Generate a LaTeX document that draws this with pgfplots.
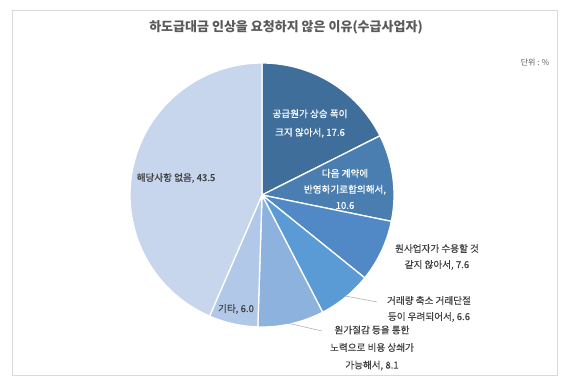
\documentclass[border=0pt]{standalone}
\usepackage{pgfplots}
\pgfplotsset{compat=1.18}
\usepackage{fontspec}
\setmainfont{Noto Sans CJK KR}
\newfontfamily\lblfont[FakeBold=0.6]{Noto Sans CJK KR}
\definecolor{cA}{RGB}{64,110,154}
\definecolor{cB}{RGB}{74,126,177}
\definecolor{cC}{RGB}{80,137,197}
\definecolor{cD}{RGB}{91,155,213}
\definecolor{cE}{RGB}{141,178,222}
\definecolor{cF}{RGB}{177,200,232}
\definecolor{cG}{RGB}{199,214,237}
\definecolor{txt}{RGB}{64,64,64}
\definecolor{ttl}{RGB}{89,89,89}
\definecolor{frm}{RGB}{217,217,217}
% data (percent)
\def\vA{17.6}\def\vB{10.6}\def\vC{7.6}\def\vD{6.6}\def\vE{8.1}\def\vF{6.0}\def\vG{43.5}
\pgfmathsetmacro\aA{90}
\pgfmathsetmacro\aB{\aA-3.6*\vA}
\pgfmathsetmacro\aC{\aB-3.6*\vB}
\pgfmathsetmacro\aD{\aC-3.6*\vC}
\pgfmathsetmacro\aE{\aD-3.6*\vD}
\pgfmathsetmacro\aF{\aE-3.6*\vE}
\pgfmathsetmacro\aG{\aF-3.6*\vF}
\pgfmathsetmacro\aH{\aG-3.6*\vG}
\def\cx{262}\def\cy{190}\def\rr{132}
\begin{document}
\begin{tikzpicture}
\begin{axis}[scale only axis, width=573pt, height=385pt,
  xmin=0, xmax=573, ymin=0, ymax=385, hide axis, clip=false]
\path (axis cs:0,0) rectangle (axis cs:573,385);
\draw[frm, line width=0.8pt] (axis cs:12,10) rectangle (axis cs:557,375);
\pgfplotsset{slice/.style={draw=white, line width=1.3pt, samples=80, no markers}}
\addplot[slice, fill=cA, domain=\aA:\aB] ({\cx+\rr*cos(x)},{\cy+\rr*sin(x)}) -- (axis cs:\cx,\cy) -- cycle;
\addplot[slice, fill=cB, domain=\aB:\aC] ({\cx+\rr*cos(x)},{\cy+\rr*sin(x)}) -- (axis cs:\cx,\cy) -- cycle;
\addplot[slice, fill=cC, domain=\aC:\aD] ({\cx+\rr*cos(x)},{\cy+\rr*sin(x)}) -- (axis cs:\cx,\cy) -- cycle;
\addplot[slice, fill=cD, domain=\aD:\aE] ({\cx+\rr*cos(x)},{\cy+\rr*sin(x)}) -- (axis cs:\cx,\cy) -- cycle;
\addplot[slice, fill=cE, domain=\aE:\aF] ({\cx+\rr*cos(x)},{\cy+\rr*sin(x)}) -- (axis cs:\cx,\cy) -- cycle;
\addplot[slice, fill=cF, domain=\aF:\aG] ({\cx+\rr*cos(x)},{\cy+\rr*sin(x)}) -- (axis cs:\cx,\cy) -- cycle;
\addplot[slice, fill=cG, domain=\aG:\aH] ({\cx+\rr*cos(x)},{\cy+\rr*sin(x)}) -- (axis cs:\cx,\cy) -- cycle;
% leader lines
\draw[gray!70, line width=0.5pt] (axis cs:345,89) -- (axis cs:377,83);
\draw[gray!70, line width=0.5pt] (axis cs:287,62) -- (axis cs:322,54);
% title and unit
\node[font=\fontsize{13}{15}\selectfont\bfseries, text=ttl] at (axis cs:286,358) {하도급대금 인상을 요청하지 않은 이유(수급사업자)};
\node[font=\fontsize{8}{9}\selectfont, text=ttl] at (axis cs:535,322) {단위 : \%};
% labels
\pgfplotsset{every node/.append style={}}
\node[font=\lblfont\fontsize{9.6}{18.5}\selectfont, text=white, align=center] at (axis cs:310,261.5) {공급원가 상승 폭이\\크지 않아서, 17.6};
\node[font=\lblfont\fontsize{9.6}{16}\selectfont, text=white, align=center] at (axis cs:345,196) {다음 계약에\\반영하기로합의해서,\\10.6};
\node[font=\lblfont\fontsize{9.6}{16}\selectfont, text=txt, align=center] at (axis cs:437,128) {원사업자가 수용할 것\\같지 않아서, 7.6};
\node[font=\lblfont\fontsize{9.6}{16}\selectfont, text=txt, align=center] at (axis cs:429,76) {거래량 축소 거래단절\\등이 우려되어서, 6.6};
\node[font=\lblfont\fontsize{9.6}{17.5}\selectfont, text=txt, align=center] at (axis cs:372,37) {원가절감 등을 통한\\노력으로 비용 상쇄가\\가능해서, 8.1};
\node[font=\lblfont\fontsize{9.6}{11}\selectfont, text=txt] at (axis cs:236,76) {기타, 6.0};
\node[font=\lblfont\fontsize{9.6}{11}\selectfont, text=txt] at (axis cs:176,207) {해당사항 없음, 43.5};
\end{axis}
\end{tikzpicture}
\end{document}
